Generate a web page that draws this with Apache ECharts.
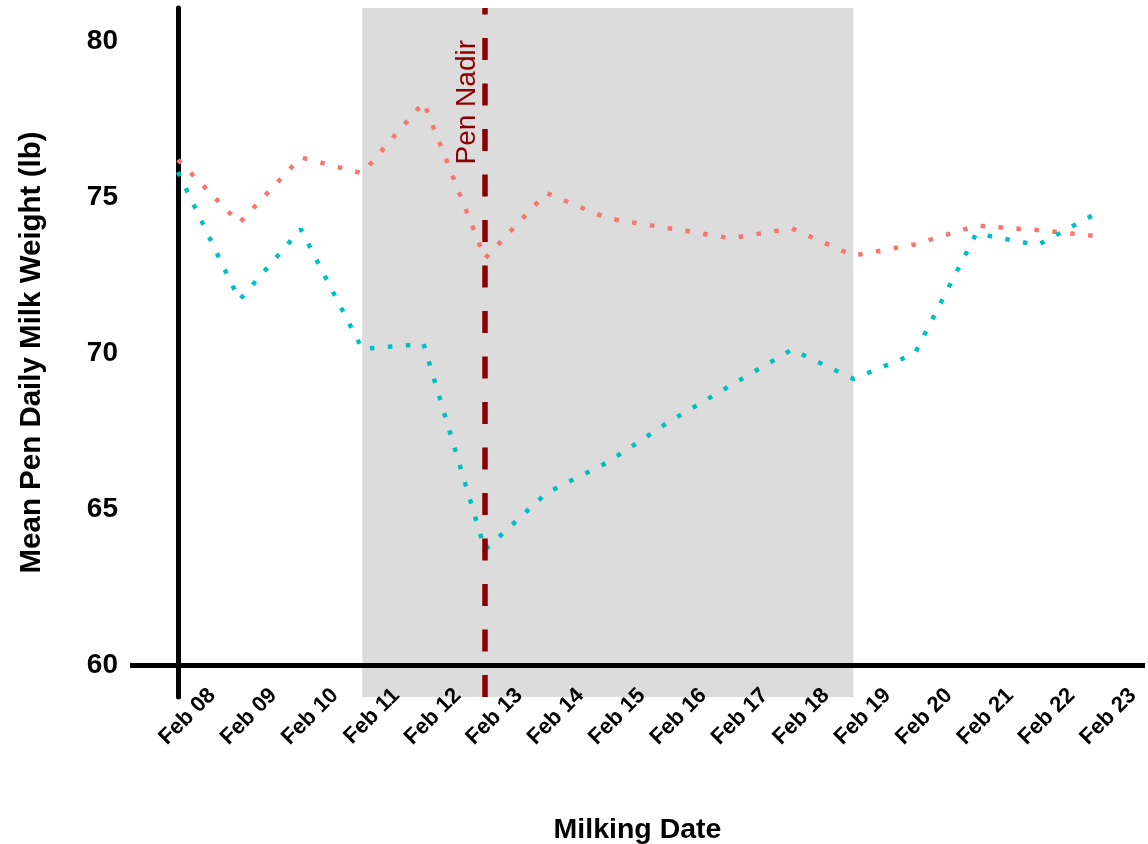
<!DOCTYPE html>
<html>
<head>
<meta charset="utf-8">
<script src="https://cdn.jsdelivr.net/npm/echarts@6/dist/echarts.min.js"></script>
<style>
html,body{margin:0;padding:0;background:#fff;}
#chart{width:1148px;height:844px;}
</style>
</head>
<body>
<div id="chart"></div>
<script>
const dates = ['Feb 08','Feb 09','Feb 10','Feb 11','Feb 12','Feb 13','Feb 14','Feb 15','Feb 16','Feb 17','Feb 18','Feb 19','Feb 20','Feb 21','Feb 22','Feb 23'];
const redValues  = [76.19, 74.17, 76.27, 75.76, 78.04, 73.03, 75.13, 74.31, 74.00, 73.68, 73.99, 73.12, 73.48, 74.08, 73.94, 73.74];
const tealValues = [75.80, 71.70, 73.97, 70.13, 70.29, 63.69, 65.51, 66.50, 67.80, 68.96, 70.11, 69.17, 69.98, 73.83, 73.46, 74.52];
const yTicks = [60, 65, 70, 75, 80];
const shadeStart = 'Feb 11';
const shadeEnd = 'Feb 19';
const nadirDate = 'Feb 13';
const nadirLabel = 'Pen Nadir';

const FONT = '"Liberation Sans", Arial, sans-serif';
const xMin = -0.782, xMax = 15.75;
const yMin = 58.974, yMax = 81.058;
const labelShift = 0.554;

const chart = echarts.init(document.getElementById('chart'), null, {renderer: 'canvas'});
const toPairs = vals => vals.map((v, i) => [i, v]);

const option = {
  animation: false,
  backgroundColor: '#ffffff',
  grid: {left: 130, right: 3, top: 8, bottom: 147, containLabel: false, outerBoundsMode: 'none'},
  xAxis: [
    {
      type: 'value', min: xMin, max: xMax, position: 'bottom',
      axisLine: {show: false}, axisTick: {show: false}, splitLine: {show: false},
      axisLabel: {show: false},
      name: 'Milking Date', nameLocation: 'middle', nameGap: 119,
      nameTextStyle: {fontSize: 28.5, fontWeight: 'bold', color: '#000', fontFamily: FONT}
    },
    {
      type: 'value', min: xMin - labelShift, max: xMax - labelShift, position: 'bottom', z: 10,
      minInterval: 1, maxInterval: 1,
      axisLine: {show: false}, axisTick: {show: false}, splitLine: {show: false},
      axisLabel: {
        show: true, rotate: 45, margin: -5,
        fontSize: 22, fontWeight: 'bold', color: '#000', fontFamily: FONT,
        showMinLabel: true, showMaxLabel: true,
        formatter: v => {
          const r = Math.round(v);
          return (Math.abs(v - r) < 1e-6 && r >= 0 && r < dates.length) ? dates[r] : '';
        }
      }
    }
  ],
  yAxis: {
    type: 'value', min: yMin, max: yMax, minInterval: 5, maxInterval: 5,
    axisLine: {show: true, onZero: true, onZeroAxisIndex: 0, lineStyle: {color: '#000', width: 5}},
    axisTick: {show: false}, splitLine: {show: false},
    axisLabel: {
      margin: 12, fontSize: 28, fontWeight: 'bold', color: '#000', fontFamily: FONT,
      showMinLabel: false, showMaxLabel: false,
      formatter: v => {
        const r = Math.round(v);
        return (Math.abs(v - r) < 1e-6 && yTicks.indexOf(r) >= 0) ? String(r) : '';
      }
    },
    name: 'Mean Pen Daily Milk Weight (lb)', nameLocation: 'middle', nameRotate: 90, nameGap: 83,
    nameTextStyle: {fontSize: 29.5, fontWeight: 'bold', color: '#000', fontFamily: FONT}
  },
  series: [
    {
      name: 'Pen 1', type: 'line', xAxisIndex: 0, yAxisIndex: 0,
      data: toPairs(redValues), showSymbol: false, symbol: 'none', z: 3,
      lineStyle: {color: '#F8766D', width: 4.5, type: [4.5, 13.5], cap: 'butt'},
      markArea: {
        silent: true, z: 1,
        itemStyle: {color: '#dcdcdc'},
        data: [[{xAxis: dates.indexOf(shadeStart)}, {xAxis: dates.indexOf(shadeEnd)}]]
      },
      markLine: {
        silent: true, symbol: 'none', z: 5, animation: false,
        data: [{
          xAxis: dates.indexOf(nadirDate),
          lineStyle: {color: '#8B0000', width: 5.5, type: [22, 23.5], cap: 'butt'},
          label: {
            show: true, position: 'insideEndTop', formatter: nadirLabel,
            distance: [32, 4], color: '#8B0000', fontSize: 28, fontWeight: 'normal', fontFamily: FONT
          }
        }]
      }
    },
    {
      name: 'Pen 2', type: 'line', xAxisIndex: 0, yAxisIndex: 0,
      data: toPairs(tealValues), showSymbol: false, symbol: 'none', z: 3,
      lineStyle: {color: '#00BFC4', width: 4.5, type: [4.5, 13.5], cap: 'butt'},
      markLine: {
        silent: true, symbol: 'none', z: 7, animation: false,
        label: {show: false},
        data: [{yAxis: yTicks[0], lineStyle: {color: '#000', width: 5, type: 'solid'}}]
      }
    }
  ]
};
chart.setOption(option);
</script>
</body>
</html>
